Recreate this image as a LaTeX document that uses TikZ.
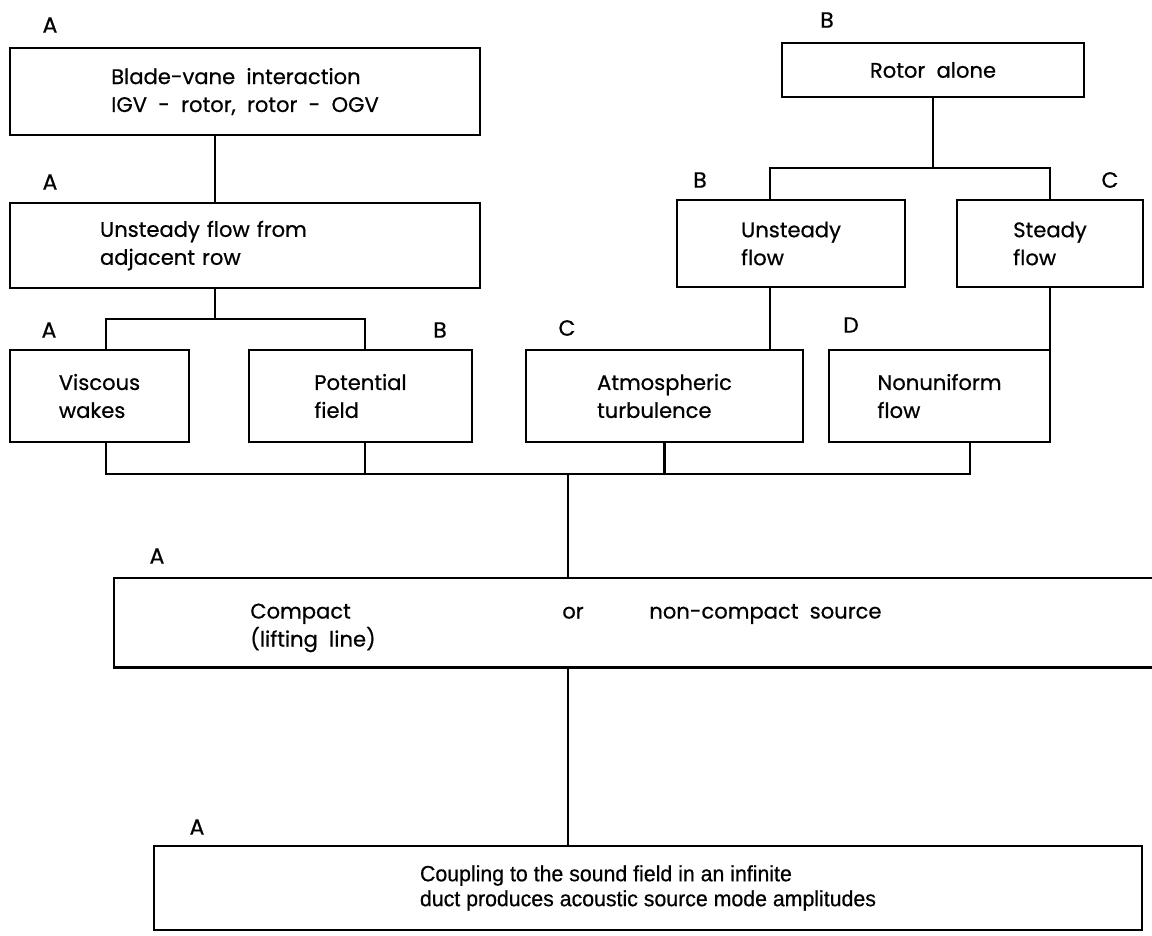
\documentclass[tikz,border=0pt]{standalone}
\usepackage{fontspec}
\setmainfont{Poppins}[WordSpace=2.0, FakeBold=0.6]
\newfontfamily\ductfont{Liberation Sans}[FakeStretch=0.97, FakeBold=0.6]
\usetikzlibrary{positioning}

\begin{document}
\begin{tikzpicture}[
  box/.style={draw, line width=1.6pt, align=left, inner sep=0pt, font=\fontsize{12}{15.9}\selectfont},
  tag/.style={inner sep=0pt, font=\fontsize{12.5}{13}\selectfont},
  txt/.style={inner sep=0pt, font=\fontsize{12}{15.9}\selectfont},
  ln/.style={line width=1.6pt}
]
\useasboundingbox (0,0) rectangle (23.04,-18.70);

% sources
\node[box, minimum width=9.40cm, minimum height=1.74cm] (blade) at (4.90,-1.83) {Blade-vane interaction\\IGV - rotor, rotor - OGV};
\node[box, text width=5.80cm, inner xsep=1.80cm, minimum height=1.70cm] (adj) at (4.90,-4.91) {Unsteady flow from\\adjacent row};
\node[box, minimum width=6.04cm, minimum height=1.08cm] (rot) at (18.66,-1.40) {Rotor alone};
\node[box, minimum width=4.56cm, minimum height=1.74cm] (uns) at (15.82,-4.87) {Unsteady\\flow};
\node[box, minimum width=3.72cm, minimum height=1.74cm] (std) at (21.00,-4.87) {Steady\\flow};

% disturbances
\node[box, minimum width=3.58cm, minimum height=1.84cm] (vis) at (1.99,-7.92) {Viscous\\wakes};
\node[box, minimum width=4.46cm, minimum height=1.84cm] (pot) at (7.21,-7.92) {Potential\\field};
\node[box, minimum width=5.54cm, minimum height=1.84cm] (atm) at (13.29,-7.92) {Atmospheric\\turbulence};
\node[box, minimum width=4.42cm, minimum height=1.84cm] (nonu) at (18.79,-7.92) {Nonuniform\\flow};

% source model, open on the right
\node[inner sep=0pt, anchor=north west, minimum width=20.76cm, minimum height=1.78cm] (cmp) at (2.28,-11.56) {};
\draw[ln] (cmp.north east) -- (cmp.north west) -- (cmp.south west) -- (cmp.south east);
\node[txt, anchor=base west] (cmpa) at (5.00,-12.37) {Compact};
\node[txt, anchor=base west] (cmpb) at (5.00,-12.93) {(lifting line)};
\node[txt, anchor=base west] (cor) at (11.24,-12.37) {or};
\node[txt, anchor=base west] (cnc) at (12.98,-12.37) {non-compact source};

\node[box, minimum width=19.76cm, minimum height=1.68cm, font=\ductfont\fontsize{12.5}{14.2}\selectfont] (duct) at (12.96,-17.76) {Coupling to the sound field in an infinite\\duct produces acoustic source mode amplitudes};

% letters
\node[tag] (tA1) at (1.00,-0.50) {A};
\node[tag] (tB1) at (16.54,-0.40) {B};
\node[tag] (tA2) at (1.00,-3.64) {A};
\node[tag] (tB2) at (14.00,-3.60) {B};
\node[tag] (tC1) at (22.20,-3.60) {C};
\node[tag] (tA3) at (0.98,-6.60) {A};
\node[tag] (tB3) at (8.80,-6.60) {B};
\node[tag] (tC2) at (11.34,-6.56) {C};
\node[tag] (tD) at (17.02,-6.50) {D};
\node[tag] (tA4) at (3.14,-11.12) {A};
\node[tag] (tA5) at (3.94,-16.54) {A};

% left tree
\coordinate (jl) at (4.30,-6.38);
\draw[ln] (blade.south -| jl) -- (adj.north -| jl);
\draw[ln] (adj.south -| jl) -- (jl);
\draw[ln] ([xshift=0.13cm]vis.north) |- (jl) -| ([xshift=0.09cm]pot.north);

% right tree
\coordinate (jr) at (15.40,-3.36);
\draw[ln] (rot.south) -- (rot.south |- jr);
\draw[ln] (uns.north -| jr) -- (jr) -| (std.north);
\draw[ln] (uns.south -| jr) -- (atm.north -| jr);
\draw[ln] (std.south) -- (std.south |- nonu.north);

% collector
\coordinate (jb) at (19.40,-9.48);
\coordinate (jm) at (11.36,-9.48);
\draw[ln] ([xshift=0.13cm]vis.south) |- (jb) -- (jb |- nonu.south);
\draw[ln] ([xshift=0.09cm]pot.south) -- ([xshift=0.09cm]pot.south |- jb);
\draw[ln] (atm.south) -- (atm.south |- jb);
\draw[ln] (jm) -- (jm |- cmp.north);
\draw[ln] (jm |- cmp.south) -- (jm |- duct.north);
\end{tikzpicture}
\end{document}
